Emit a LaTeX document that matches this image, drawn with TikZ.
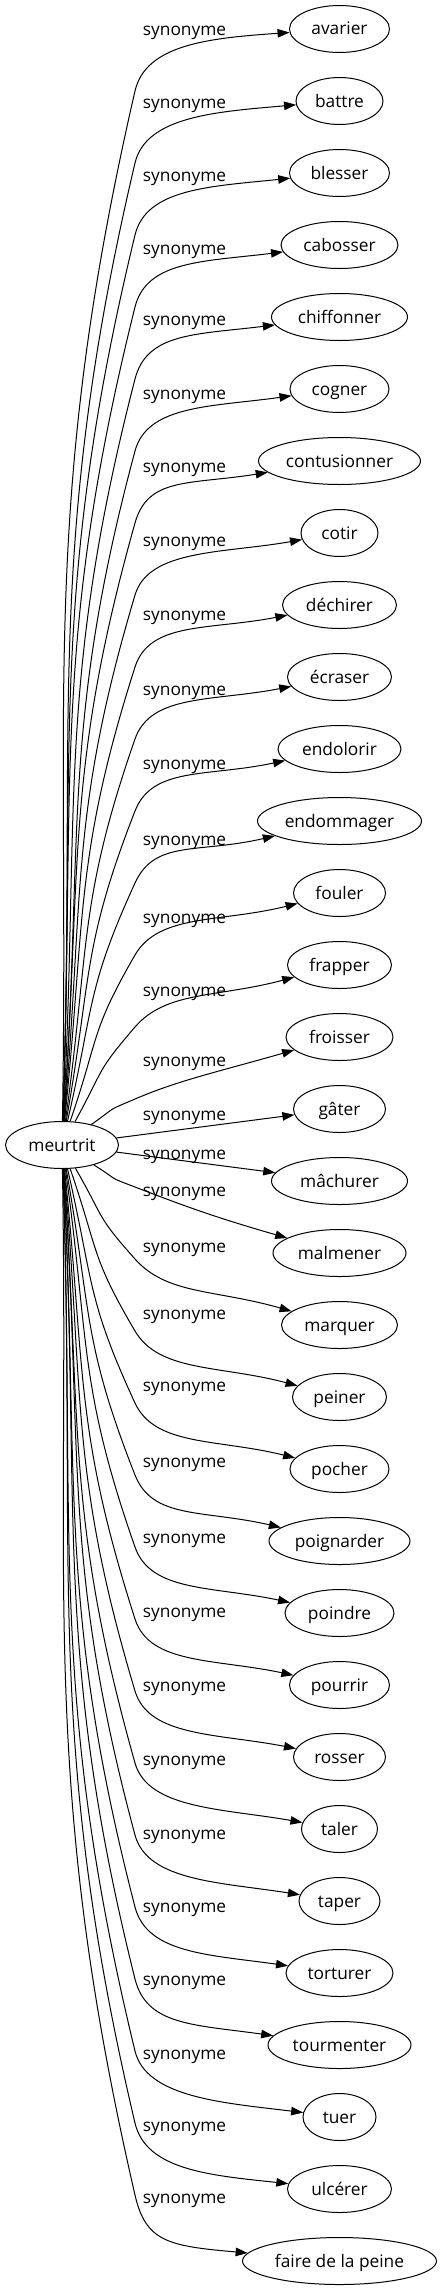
\documentclass[tikz,border=0pt]{standalone}
\usepackage{fontspec}
\setmainfont{Open Sans}
\usetikzlibrary{arrows.meta,shapes.geometric}

\tikzset{
  wordnode/.style={draw, ellipse, line width=1pt, inner sep=0pt, minimum height=47pt,
    text height=13pt, text depth=1pt, font=\fontsize{17.3}{20}\selectfont},
  relnode/.style={inner sep=0pt, text height=13pt, text depth=1pt, font=\fontsize{17.3}{20}\selectfont},
  synedge/.style={line width=1pt, -{Triangle[length=12pt,width=8.5pt]}}
}

\begin{document}
\begin{tikzpicture}[x=1pt, y=1pt]
\useasboundingbox (0,0) rectangle (442,-2291);

% central word
\node[wordnode, minimum width=113pt] (m) at (62,-1145) {meurtrit};

% synonyms and their labels: index/word/width/label height
\foreach \i/\syn/\w/\ly in {0/avarier/100/30, 1/battre/87/102, 2/blesser/100/175,
    3/cabosser/117/248, 4/chiffonner/136/319, 5/cogner/99/393, 6/contusionner/162/466,
    7/cotir/77/540, 8/déchirer/114/614, 9/écraser/104/689, 10/endolorir/123/763,
    11/endommager/164/839, 12/fouler/92/917, 13/frapper/104/990, 14/froisser/107/1060,
    15/gâter/92/1114, 16/mâchurer/136/1153, 17/malmener/133/1190, 18/marquer/116/1246,
    19/peiner/94/1313, 20/pocher/99/1385, 21/poignarder/141/1461, 22/poindre/109/1537,
    23/pourrir/100/1611, 24/rosser/92/1685, 25/taler/76/1759, 26/taper/81/1833,
    27/torturer/107/1906, 28/tourmenter/143/1979, 29/tuer/73/2053, 30/ulcérer/104/2125,
    31/faire de la peine/194/2197} {
  \pgfmathsetmacro{\y}{29+72*\i}
  \node[wordnode, minimum width=\w pt] (t\i) at (339.5,-\y) {\syn};
  \node[relnode] (l\i) at (184.5,-\ly) {synonyme};
}

% edges going up
\foreach \i in {0,...,14} {
  \pgfmathsetmacro{\yk}{29+72*\i+62}
  \pgfmathsetmacro{\c}{atan2(1145-\yk,73)}
  \pgfmathtruncatemacro{\a}{\c+3}
  \pgfmathsetmacro{\b}{\c-9}
  \pgfmathsetmacro{\bb}{\b+180}
  \pgfmathsetmacro{\d}{0.39*(abs(1145-\yk)+40)}
  \pgfmathtruncatemacro{\e}{196-0.8*(14-\i)}
  \coordinate (k\i) at (135,-\yk);
  \draw[synedge] (m.\a) .. controls +(\a:\d) and +(\bb:\d) .. (k\i)
    .. controls +(\b:48) and +(\e:80) .. (t\i.\e);
}

% the two nearest ones
\draw[synedge] (m) -- (t15);
\draw[synedge] (m) -- (t16);

% edges going down
\foreach \i in {17,...,31} {
  \pgfmathsetmacro{\yk}{29+72*\i-66}
  \pgfmathsetmacro{\c}{atan2(1145-\yk,73)}
  \pgfmathtruncatemacro{\a}{\c-3}
  \pgfmathsetmacro{\b}{\c+9}
  \pgfmathsetmacro{\bb}{\b+180}
  \pgfmathsetmacro{\d}{0.39*(abs(1145-\yk)+40)}
  \pgfmathtruncatemacro{\e}{164+0.8*(\i-17)}
  \coordinate (k\i) at (135,-\yk);
  \draw[synedge] (m.\a) .. controls +(\a:\d) and +(\bb:\d) .. (k\i)
    .. controls +(\b:48) and +(\e:80) .. (t\i.\e);
}

\end{tikzpicture}
\end{document}
